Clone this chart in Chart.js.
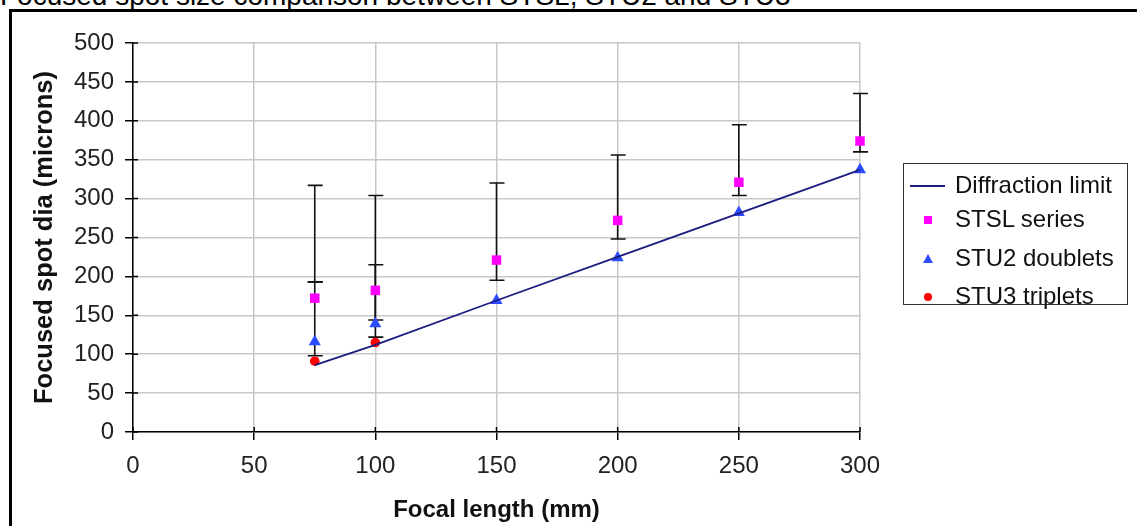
<!DOCTYPE html>
<html>
<head>
<meta charset="utf-8">
<script src="https://cdn.jsdelivr.net/npm/chart.js@4"></script>
<style>
  body { margin: 0; background: #fff; overflow: hidden; font-family: Arial, "Liberation Sans", sans-serif; }
  #wrap { position: relative; width: 1137px; height: 526px; }
  #title { position: absolute; left: 0; top: -18px; font-size: 28px; line-height: 28px; color: #000; white-space: nowrap; }
  #frame { position: absolute; left: 9px; top: 9px; width: 1200px; height: 600px; border: 3px solid #000; box-sizing: border-box; }
  canvas { position: absolute; left: 0; top: 0; }
  #legend { position: absolute; left: 903px; top: 163px; width: 225px; height: 142px; border: 1px solid #333; box-sizing: border-box; background: #fff; }
  .item { position: absolute; left: 0; height: 28px; font-size: 24px; line-height: 28px; color: #111; white-space: nowrap; }
  .item span { position: absolute; left: 51px; }
  .mk { position: absolute; }
</style>
</head>
<body>
<div id="wrap">
  <div id="title">Focused spot size comparison between STSL, STU2 and STU3</div>
  <div id="frame"></div>
  <canvas id="chart" width="1137" height="526"></canvas>
  <div id="legend">
    <div class="item" style="top:7px"><div class="mk" style="left:6px;top:14px;width:35px;height:2px;background:#1c1c80"></div><span>Diffraction limit</span></div>
    <div class="item" style="top:41px"><div class="mk" style="left:20px;top:11px;width:8px;height:8px;background:#ff00ff"></div><span>STSL series</span></div>
    <div class="item" style="top:80px"><div class="mk" style="left:19px;top:10px;width:0;height:0;border-left:5px solid transparent;border-right:5px solid transparent;border-bottom:9px solid #2b4cff"></div><span>STU2 doublets</span></div>
    <div class="item" style="top:118px"><div class="mk" style="left:20px;top:11px;width:8px;height:8px;border-radius:50%;background:#ff0000"></div><span>STU3 triplets</span></div>
  </div>
</div>
<script>
// focal lengths (mm)
const focal = [75, 100, 150, 200, 250, 300];
const xTicks = [0, 50, 100, 150, 200, 250, 300];
const yTicks = [0, 50, 100, 150, 200, 250, 300, 350, 400, 450, 500];

// diffraction limit
const diffraction = [86, 112, 169, 225, 281, 337];

// STSL series + error range
const stsl = [172, 182, 221, 272, 321, 374];
const stslLow = [193, 144, 195, 248, 304, 360];
const stslHigh = [317, 304, 320, 356, 395, 435];

// STU2 doublets + error range
const stu2Focal = [75, 100, 150, 200, 250, 300];
const stu2 = [116, 139, 169, 224, 282, 337];
const stu2Low = [98, 122, null, null, null, null];
const stu2High = [193, 215, null, null, null, null];

// STU3 triplets
const stu3Focal = [75, 100];
const stu3 = [91, 115];

const pts = (xs, ys) => xs.map((x, i) => ({ x: x, y: ys[i] }));

// error bars drawn through the scales
const errorBars = {
  id: "errorBars",
  beforeDatasetsDraw(chart) {
    const ctx = chart.ctx;
    const xs = chart.scales.x, ys = chart.scales.y;
    const draw = (xv, lo, hi) => {
      if (lo == null || hi == null) return;
      const px = xs.getPixelForValue(xv);
      const p1 = ys.getPixelForValue(lo), p2 = ys.getPixelForValue(hi);
      ctx.beginPath();
      ctx.moveTo(px, p1); ctx.lineTo(px, p2);
      ctx.moveTo(px - 7, p1); ctx.lineTo(px + 8, p1);
      ctx.moveTo(px - 7, p2); ctx.lineTo(px + 8, p2);
      ctx.stroke();
    };
    ctx.save();
    ctx.strokeStyle = "#111";
    ctx.lineWidth = 1.6;
    focal.forEach((f, i) => draw(f, stslLow[i], stslHigh[i]));
    stu2Focal.forEach((f, i) => draw(f, stu2Low[i], stu2High[i]));
    ctx.restore();
  }
};

// excel style ticks that cross the axis line
const crossTicks = {
  id: "crossTicks",
  afterDraw(chart) {
    const ctx = chart.ctx, a = chart.chartArea;
    const xs = chart.scales.x, ys = chart.scales.y;
    ctx.save();
    ctx.strokeStyle = "#000";
    ctx.lineWidth = 1.5;
    ctx.beginPath();
    xTicks.forEach(v => { const p = xs.getPixelForValue(v); ctx.moveTo(p, a.bottom); ctx.lineTo(p, a.bottom - 5); });
    yTicks.forEach(v => { const p = ys.getPixelForValue(v); ctx.moveTo(a.left, p); ctx.lineTo(a.left + 5, p); });
    ctx.stroke();
    ctx.restore();
  }
};

const tickFont = { family: "Arial, 'Liberation Sans'", size: 24 };
const titleFont = { family: "Arial, 'Liberation Sans'", size: 24, weight: "bold" };

new Chart(document.getElementById("chart"), {
  type: "scatter",
  data: {
    datasets: [
      {
        label: "Diffraction limit",
        data: pts(focal, diffraction),
        showLine: true,
        borderColor: "#1c1c80",
        borderWidth: 1.8,
        pointRadius: 0,
        clip: false
      },
      {
        label: "STSL series",
        data: pts(focal, stsl),
        pointStyle: "rect",
        pointRadius: 6.7,
        backgroundColor: "#ff00ff",
        borderColor: "#ff00ff",
        borderWidth: 0,
        clip: false
      },
      {
        label: "STU2 doublets",
        data: pts(stu2Focal, stu2),
        pointStyle: "triangle",
        pointRadius: 7,
        backgroundColor: "#2b4cff",
        borderColor: "#2b4cff",
        borderWidth: 0,
        clip: false
      },
      {
        label: "STU3 triplets",
        data: pts(stu3Focal, stu3),
        pointStyle: "circle",
        pointRadius: 4.8,
        backgroundColor: "#ff0000",
        borderColor: "#ff0000",
        borderWidth: 0,
        clip: false
      }
    ]
  },
  options: {
    responsive: false,
    animation: false,
    layout: { padding: { left: 10, top: 43, right: 277, bottom: 0 } },
    plugins: { legend: { display: false }, tooltip: { enabled: false } },
    scales: {
      x: {
        type: "linear",
        min: 0, max: 300,
        afterBuildTicks: s => { s.ticks = xTicks.map(v => ({ value: v })); },
        afterFit: s => { s.height = 94; },
        grid: { color: "#c8c8c8", lineWidth: 1.5, tickLength: 8, tickColor: "#000" },
        border: { color: "#000", width: 1.5 },
        ticks: { color: "#222", font: tickFont, padding: 12 },
        title: { display: true, text: "Focal length (mm)", color: "#111", font: titleFont, padding: { top: 0, bottom: 1 } }
      },
      y: {
        type: "linear",
        min: 0, max: 500,
        afterBuildTicks: s => { s.ticks = yTicks.map(v => ({ value: v })); },
        afterFit: s => { s.width = 123; },
        grid: { color: "#c8c8c8", lineWidth: 1.5, tickLength: 8, tickColor: "#000" },
        border: { color: "#000", width: 1.5 },
        ticks: { color: "#222", font: tickFont, padding: 11 },
        title: { display: true, text: "Focused spot dia (microns)", color: "#111", font: { family: "Arial, 'Liberation Sans'", size: 25.5, weight: "bold" }, padding: { top: 20, bottom: 0 } }
      }
    }
  },
  plugins: [errorBars, crossTicks]
});
</script>
</body>
</html>
